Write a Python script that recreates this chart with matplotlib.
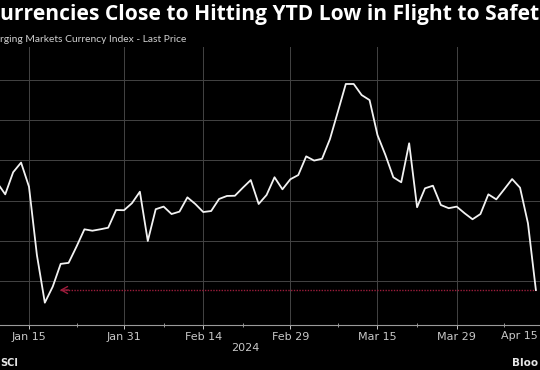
import matplotlib
matplotlib.use("Agg")
import matplotlib.pyplot as plt
import matplotlib.transforms as mtransforms
import numpy as np
import pandas as pd

# MSCI EM currency index, last price (business days)
dates = pd.bdate_range("2024-01-09", "2024-04-12")
values = [
    1690.88, 1690.31, 1691.41, 1691.89, 1690.69, 1687.29, 1684.92, 1685.72,
    1686.85, 1686.90, 1687.71, 1688.57, 1688.50, 1688.57, 1688.65, 1689.53,
    1689.52, 1689.87, 1690.44, 1687.99, 1689.57, 1689.70, 1689.33, 1689.45,
    1690.16, 1689.83, 1689.43, 1689.48, 1690.08, 1690.23, 1690.24, 1690.64,
    1691.02, 1689.83, 1690.28, 1691.16, 1690.56, 1691.06, 1691.27, 1692.20,
    1691.99, 1692.08, 1693.06, 1694.42, 1695.80, 1695.80, 1695.25, 1695.00,
    1693.26, 1692.27, 1691.16, 1690.91, 1692.85, 1689.67, 1690.61, 1690.74,
    1689.78, 1689.62, 1689.70, 1689.37, 1689.07, 1689.33, 1690.31, 1690.06,
    1690.56, 1691.07, 1690.64, 1688.87, 1685.55,
]

tick_dates = ["2024-01-15", "2024-01-31", "2024-02-14", "2024-02-29",
              "2024-03-15", "2024-03-29", "2024-04-15"]
tick_labels = ["Jan 15", "Jan 31", "Feb 14", "Feb 29", "Mar 15", "Mar 29", "Apr 15"]
minor_dates = ["2024-01-23", "2024-02-07", "2024-02-21", "2024-03-08",
               "2024-03-22", "2024-04-08"]
y_grid = [1686, 1688, 1690, 1692, 1694, 1696]


def bday_pos(d):
    # position on the business-day axis (works past the last data point too)
    return len(pd.bdate_range(dates[0], d)) - 1


x = np.arange(len(values))
tick_pos = [bday_pos(d) for d in tick_dates]
minor_pos = [bday_pos(d) for d in minor_dates]

fig = plt.figure(figsize=(5.4, 3.7), dpi=100, facecolor="black")
ax = fig.add_axes([0, 45 / 370, 1, 278 / 370], facecolor="black")

ax.plot(x, values, color="#f2f2f2", lw=1.3, zorder=3)

# dotted red pointer from the latest price back to the January low
last = values[-1]
ax.plot([7.9, x[-1]], [last, last], color="#9c1d3c", lw=1.0, ls=(0, (1, 1)), zorder=2)
ax.annotate("", xy=(7.9, last), xytext=(9.0, last),
            arrowprops=dict(arrowstyle="->,head_length=0.45,head_width=0.25",
                            color="#9c1d3c", lw=1.0, shrinkA=0, shrinkB=0))

ax.set_xlim(0.34, 68.52)
ax.set_ylim(1683.81, 1697.64)

visible = [(p, l) for p, l in zip(tick_pos, tick_labels) if p <= 68.52]
ax.set_xticks([p for p, _ in visible])
ax.set_xticklabels([l for _, l in visible])
ax.set_xticks(minor_pos, minor=True)
ax.set_yticks(y_grid)
ax.set_yticklabels([])

ax.grid(True, which="major", color="#444444", lw=0.7)
ax.tick_params(axis="x", which="major", colors="#c8c8c8", length=3, width=0.7,
               labelsize=8, pad=2)
ax.tick_params(axis="x", which="minor", colors="#9a9a9a", length=3, width=0.7,
               direction="inout")
ax.tick_params(axis="y", length=0)
for side in ["left", "right", "top"]:
    ax.spines[side].set_visible(False)
ax.spines["bottom"].set_color("#9a9a9a")
ax.spines["bottom"].set_linewidth(0.8)

# last label sits past the right edge of the plot, pulled in to stay on the canvas
shift = mtransforms.ScaledTranslation(-2 / 100, 0, fig.dpi_scale_trans)
ax.text(1.0, -0.02, tick_labels[-1], color="#c8c8c8", fontsize=8,
        ha="right", va="top", clip_on=False,
        transform=ax.transAxes + shift)

title = fig.text(0, 1 - 20 / 370, "urrencies Close to Hitting YTD Low in Flight to Safet",
                 color="white", fontsize=13.5, fontweight="bold", family="Open Sans",
                 ha="left", va="baseline")
# scale the title so it spans the width like in the original
renderer = fig.canvas.get_renderer()
w = title.get_window_extent(renderer=renderer).width
title.set_fontsize(13.5 * 537 / w)

fig.text(0, 1 - 42 / 370, "rging Markets Currency Index - Last Price",
         color="#d0d0d0", fontsize=7.4, family="Lato", ha="left", va="baseline")
fig.text(245 / 540, 1 - 351 / 370, "2024", color="#c8c8c8", fontsize=8,
         ha="center", va="baseline")
fig.text(0, 1 - 366 / 370, "SCI", color="#e6e6e6", fontsize=7, fontweight="bold",
         ha="left", va="baseline")
fig.text(538 / 540, 1 - 366 / 370, "Bloo", color="#e6e6e6", fontsize=7.5,
         fontweight="bold", ha="right", va="baseline")

fig.savefig("out.png", dpi=100, facecolor="black")
